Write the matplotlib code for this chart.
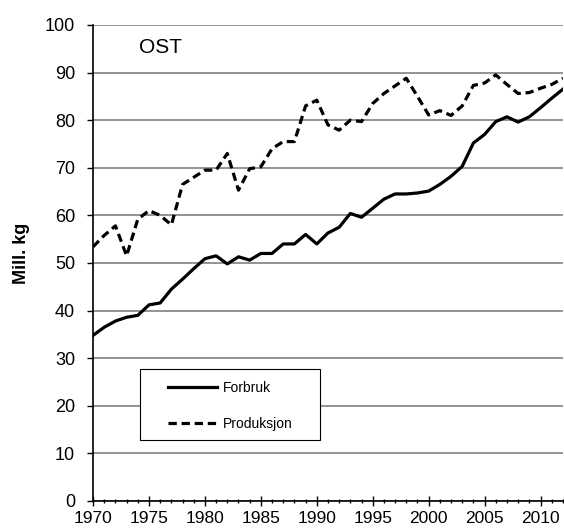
import matplotlib
matplotlib.use("Agg")
import matplotlib.pyplot as plt
from matplotlib.ticker import MultipleLocator
from matplotlib.patches import Rectangle

plt.rcParams['font.family'] = ['Liberation Sans', 'DejaVu Sans']

# data (mill. kg)
years = list(range(1970, 2013))
forbruk = [34.8, 36.5, 37.8, 38.6, 39.0, 41.2, 41.6, 44.5, 46.6, 48.8,
           50.9, 51.5, 49.8, 51.3, 50.6, 52.0, 52.0, 54.0, 54.0, 56.0,
           54.0, 56.3, 57.5, 60.4, 59.6, 61.5, 63.4, 64.5, 64.5, 64.7,
           65.1, 66.5, 68.2, 70.3, 75.2, 77.0, 79.7, 80.7, 79.6, 80.7,
           82.6, 84.6, 86.5]
produksjon = [53.4, 55.8, 57.8, 51.5, 59.2, 61.0, 60.0, 58.0, 66.5, 68.0,
              69.5, 69.5, 73.0, 65.3, 69.8, 70.2, 74.0, 75.5, 75.5, 83.0,
              84.2, 79.0, 77.9, 80.0, 79.7, 83.5, 85.6, 87.2, 88.8, 85.0,
              81.1, 82.0, 81.0, 83.0, 87.3, 87.8, 89.5, 87.5, 85.6, 85.8,
              86.7, 87.5, 88.8]

fig = plt.figure(figsize=(5.64, 5.31), dpi=100)
ax = fig.add_axes([0.165, 0.0565, 0.833, 0.8965])

ax.plot(years, forbruk, color='black', lw=2.3, label='Forbruk', zorder=3)
ax.plot(years, produksjon, color='black', lw=2.3, ls=(0, (2.6, 1.5)),
        label='Produksjon', zorder=3)

ax.set_xlim(1970, 2012)
ax.set_ylim(0, 100)
ax.xaxis.set_major_locator(MultipleLocator(5))
ax.xaxis.set_minor_locator(MultipleLocator(1))
ax.yaxis.set_major_locator(MultipleLocator(10))

ax.grid(axis='y', color='#8a8a8a', lw=1.3)
ax.set_axisbelow(True)
for s in ['top', 'right']:
    ax.spines[s].set_visible(False)
ax.spines['left'].set_linewidth(1.2)
ax.spines['bottom'].set_linewidth(1.2)

ax.tick_params(axis='x', which='major', direction='inout', length=7, width=1,
               labelsize=12.5, pad=4)
ax.tick_params(axis='x', which='minor', direction='inout', length=3.5, width=1)
ax.tick_params(axis='y', direction='out', length=4, width=1, labelsize=13, pad=9)

ax.set_ylabel('Mill. kg', fontsize=13, fontweight='bold', va='center')
ax.yaxis.set_label_coords(-0.152, 0.52)

ax.text(1974.1, 95.2, 'OST', fontsize=15, va='center', ha='left')

# legend box
ax.add_patch(Rectangle((0.1, 0.128), 0.383, 0.149, transform=ax.transAxes,
                       facecolor='white', edgecolor='black', lw=0.8, zorder=4))
leg = ax.legend(loc='upper left', bbox_to_anchor=(0.16, 0.252),
                fontsize=10, handlelength=3.5, handletextpad=0.45,
                labelspacing=1.6, borderpad=0, frameon=False, borderaxespad=0)
leg.set_zorder(5)

fig.savefig('out.png', dpi=100)
